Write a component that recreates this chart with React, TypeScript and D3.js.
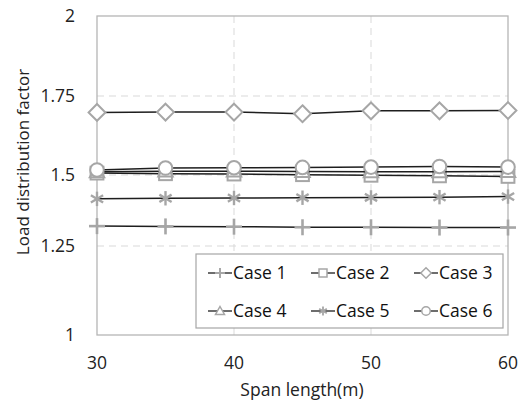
import React from "react";
import * as d3 from "d3";

const spans = [30, 35, 40, 45, 50, 55, 60];
const case1 = [1.320, 1.319, 1.318, 1.316, 1.316, 1.315, 1.315];
const case2 = [1.506, 1.504, 1.503, 1.501, 1.499, 1.497, 1.495];
const case3 = [1.698, 1.699, 1.699, 1.694, 1.703, 1.703, 1.704];
const case4 = [1.510, 1.512, 1.512, 1.511, 1.510, 1.510, 1.511];
const case5 = [1.416, 1.418, 1.419, 1.420, 1.421, 1.422, 1.424];
const case6 = [1.516, 1.522, 1.523, 1.524, 1.525, 1.527, 1.525];
const seriesNames = ["Case 1", "Case 2", "Case 3", "Case 4", "Case 5", "Case 6"];
const markerTypes = ["plus", "square", "diamond", "triangle", "asterisk", "circle"];
const yTicks = [1, 1.25, 1.5, 1.75, 2];
const xTicks = [30, 40, 50, 60];
const xGrid = [40, 50];
const yGrid = [1.25, 1.5, 1.75];

const W = 520, H = 402;
const FONT = "'Open Sans', sans-serif";
const MARK = "#a6a6a6";
const LINE = "#1e1e1e";

const x = d3.scaleLinear().domain([30, 60]).range([97, 508]);
// polylinear scale matching the reference's gridline positions
const y = d3.scaleLinear().domain([1, 1.25, 1.5, 1.75, 2]).range([335, 246, 175, 96, 16]);

function Marker({ type, cx, cy, s, sw = 2 }: { type: string; cx: number; cy: number; s: number; sw?: number }) {
  if (type === "plus") {
    return (
      <g stroke={MARK} strokeWidth={sw * 1.3}>
        <line x1={cx - s} x2={cx + s} y1={cy} y2={cy} />
        <line x1={cx} x2={cx} y1={cy - s} y2={cy + s} />
      </g>
    );
  }
  if (type === "square") {
    const h = s * 0.8;
    return <rect x={cx - h} y={cy - h} width={2 * h} height={2 * h} fill="#fff" stroke={MARK} strokeWidth={sw} />;
  }
  if (type === "diamond") {
    const h = s * 1.05;
    return (
      <path
        d={`M${cx},${cy - h}L${cx + h},${cy}L${cx},${cy + h}L${cx - h},${cy}Z`}
        fill="#fff"
        stroke={MARK}
        strokeWidth={sw}
      />
    );
  }
  if (type === "triangle") {
    const h = s * 0.9;
    return (
      <path
        d={`M${cx},${cy - h}L${cx + h},${cy + h * 0.75}L${cx - h},${cy + h * 0.75}Z`}
        fill="#fff"
        stroke={MARK}
        strokeWidth={sw}
      />
    );
  }
  if (type === "asterisk") {
    const h = s * 0.9;
    const d = h * 0.85;
    return (
      <g stroke={MARK} strokeWidth={sw * 1.2}>
        <line x1={cx} x2={cx} y1={cy - h} y2={cy + h} />
        <line x1={cx - d} x2={cx + d} y1={cy - d * 0.6} y2={cy + d * 0.6} />
        <line x1={cx - d} x2={cx + d} y1={cy + d * 0.6} y2={cy - d * 0.6} />
      </g>
    );
  }
  return <circle cx={cx} cy={cy} r={s * 0.85} fill="#fff" stroke={MARK} strokeWidth={sw} />;
}

export default function App() {
  const allSeries = [case1, case2, case3, case4, case5, case6];
  const line = d3
    .line<number>()
    .x((_, i) => x(spans[i]))
    .y((v) => y(v));

  const legendCols = [220, 323, 426];
  const legendRows = [273, 311];

  return (
    <svg
      width={W}
      height={H}
      style={{ position: "absolute", left: 0, top: 0, background: "#fff" }}
      fontFamily={FONT}
    >
      <rect x={0} y={0} width={W} height={H} fill="#fff" />
      {yGrid.map((v) => (
        <line key={"yg" + v} x1={x(30)} x2={x(60)} y1={y(v)} y2={y(v)} stroke="#d9d9d9" strokeWidth={1} strokeDasharray="7,5" />
      ))}
      {xGrid.map((v) => (
        <line key={"xg" + v} x1={x(v)} x2={x(v)} y1={y(2)} y2={y(1)} stroke="#d9d9d9" strokeWidth={1} strokeDasharray="7,5" />
      ))}
      <rect x={x(30)} y={y(2)} width={x(60) - x(30)} height={y(1) - y(2)} fill="none" stroke="#b5b5b5" strokeWidth={1.3} />

      {yTicks.map((v) => (
        <text key={"yt" + v} x={75} y={y(v)} dy="0.36em" textAnchor="end" fontSize={17.5} fill="#222">
          {v}
        </text>
      ))}
      {xTicks.map((v) => (
        <text key={"xt" + v} x={x(v)} y={363} dy="0.36em" textAnchor="middle" fontSize={17.5} fill="#222">
          {v}
        </text>
      ))}
      <text x={302} y={390} dy="0.36em" textAnchor="middle" fontSize={17.5} fill="#222">
        Span length(m)
      </text>
      <text
        transform={`translate(23,162) rotate(-90)`}
        dy="0.36em"
        textAnchor="middle"
        fontSize={17}
        fill="#222"
      >
        Load distribution factor
      </text>

      {allSeries.map((vals, si) => (
        <g key={"s" + si}>
          <path d={line(vals) || ""} fill="none" stroke={LINE} strokeWidth={1.5} />
          {vals.map((v, i) => (
            <Marker key={i} type={markerTypes[si]} cx={x(spans[i])} cy={y(v)} s={8} />
          ))}
        </g>
      ))}

      <rect x={196} y={254} width={307} height={74} fill="#fff" stroke="#a6a6a6" strokeWidth={1.2} />
      {seriesNames.map((name, i) => {
        const cx = legendCols[i % 3];
        const cy = legendRows[Math.floor(i / 3)];
        return (
          <g key={"lg" + i}>
            <line x1={cx - 12} x2={cx + 12} y1={cy} y2={cy} stroke={LINE} strokeWidth={1.3} />
            <Marker type={markerTypes[i]} cx={cx} cy={cy} s={5} sw={1.5} />
            <text x={cx + 13} y={cy} dy="0.36em" fontSize={17.5} fill="#111">
              {name}
            </text>
          </g>
        );
      })}
    </svg>
  );
}
